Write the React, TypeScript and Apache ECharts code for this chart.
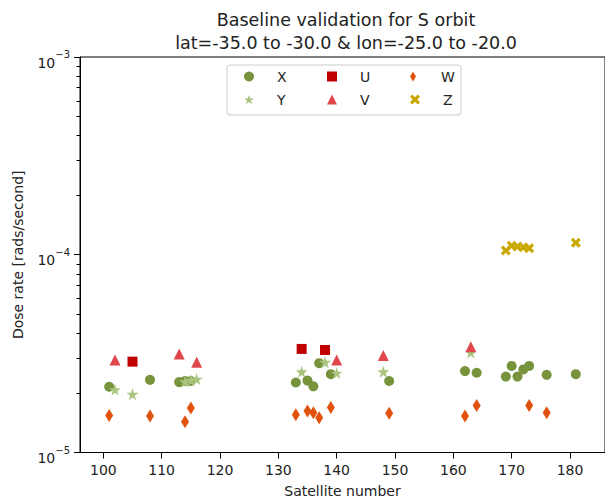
import { useEffect, useRef } from 'react';
import * as echarts from 'echarts';

// ---- data ----
const legendOrder = ['X', 'U', 'W', 'Y', 'V', 'Z'];

const xSat = [101, 108, 113, 114, 115, 133, 135, 136, 137, 139, 149, 162, 164, 169, 170, 171, 172, 173, 176, 181];
const xDose = [2.15e-5, 2.33e-5, 2.27e-5, 2.3e-5, 2.3e-5, 2.26e-5, 2.31e-5, 2.16e-5, 2.83e-5, 2.49e-5, 2.3e-5, 2.58e-5, 2.53e-5, 2.42e-5, 2.74e-5, 2.42e-5, 2.63e-5, 2.74e-5, 2.47e-5, 2.49e-5];

const ySat = [102, 105, 114, 115, 116, 134, 138, 140, 148, 163];
const yDose = [2.08e-5, 1.97e-5, 2.28e-5, 2.32e-5, 2.35e-5, 2.56e-5, 2.86e-5, 2.52e-5, 2.56e-5, 3.2e-5];

const uSat = [105, 134, 138];
const uDose = [2.88e-5, 3.34e-5, 3.3e-5];

const vSat = [102, 113, 116, 140, 148, 163];
const vDose = [2.94e-5, 3.15e-5, 2.86e-5, 2.94e-5, 3.09e-5, 3.43e-5];

const wSat = [101, 108, 114, 115, 133, 135, 136, 137, 139, 149, 162, 164, 173, 176];
const wDose = [1.54e-5, 1.53e-5, 1.43e-5, 1.68e-5, 1.55e-5, 1.62e-5, 1.59e-5, 1.5e-5, 1.69e-5, 1.58e-5, 1.53e-5, 1.73e-5, 1.73e-5, 1.59e-5];

const zSat = [169, 170, 171, 172, 173, 181];
const zDose = [1.05e-4, 1.11e-4, 1.1e-4, 1.09e-4, 1.08e-4, 1.15e-4];

const xTicks = [100, 110, 120, 130, 140, 150, 160, 170, 180];
const yDecades = [-5, -4, -3];
const minorMultipliers = [2, 3, 4, 5, 6, 7, 8, 9];

const FONT = 'DejaVu Sans';
const TXT = '#222';

const STAR = 'path://M0,-1L0.2245,-0.309L0.951,-0.309L0.363,0.118L0.588,0.809L0,0.382L-0.588,0.809L-0.363,0.118L-0.951,-0.309L-0.2245,-0.309Z';
const THIN_DIAMOND = 'path://M0,-1L0.6,0L0,1L-0.6,0Z';
const FILLED_X = 'path://M0.919,-0.495L0.424,0L0.919,0.495L0.495,0.919L0,0.424L-0.495,0.919L-0.919,0.495L-0.424,0L-0.919,-0.495L-0.495,-0.919L0,-0.424L0.495,-0.919Z';

const pairs = (s: number[], d: number[]) => s.map((v, i) => [v, d[i]]);

export default function App() {
  const ref = useRef<HTMLDivElement>(null);

  useEffect(() => {
    if (!ref.current) return;
    const chart = echarts.init(ref.current, undefined, { renderer: 'svg' });

    const minorTicks: number[] = [];
    yDecades.slice(0, -1).forEach((e) => {
      minorMultipliers.forEach((k) => minorTicks.push(e + Math.log10(k)));
    });

    const scatter = (name: string, s: number[], d: number[], symbol: string, size: any, color: string) => ({
      type: 'scatter',
      name,
      data: pairs(s, d),
      symbol,
      symbolSize: size,
      yAxisIndex: 0,
      itemStyle: { color, opacity: 1 },
      emphasis: { disabled: true },
    });

    const tok = { fontSize: 14, fontFamily: FONT, color: TXT, lineHeight: 23, height: 23 };

    chart.setOption({
      animation: false,
      backgroundColor: '#fff',
      title: {
        text: 'Baseline validation for S orbit\nlat=-35.0 to -30.0 & lon=-25.0 to -20.0',
        left: 346,
        top: 8,
        textAlign: 'center',
        padding: 0,
        textStyle: { fontSize: 17.5, fontWeight: 'normal', fontFamily: FONT, color: TXT, lineHeight: 23.3 },
      },
      legend: {
        data: legendOrder,
        left: 227,
        top: 65,
        width: 216,
        orient: 'horizontal',
        itemWidth: 10,
        itemHeight: 10,
        itemGap: 0,
        padding: [0, 2, 4, 17],
        borderColor: '#cccccc',
        borderWidth: 1,
        borderRadius: 3,
        selectedMode: false,
        formatter: (name: string) =>
          name === 'W' || name === 'Z' ? `{sp| }{c|${name}}` : `{sp| }{a|${name}}`,
        textStyle: {
          fontSize: 14,
          fontFamily: FONT,
          color: TXT,
          lineHeight: 23,
          rich: {
            sp: { ...tok, width: 18 },
            a: { ...tok, width: 50 },
            c: { ...tok, width: 16 },
          },
        },
      },
      grid: {
        left: 80,
        top: 57,
        width: 531,
        bottom: 51.5,
        show: true,
        borderColor: '#000',
        borderWidth: 1,
        backgroundColor: 'transparent',
      },
      xAxis: {
        type: 'value',
        min: 96,
        max: 186,
        name: 'Satellite number',
        nameLocation: 'middle',
        nameGap: 31,
        nameTextStyle: { fontSize: 14, fontFamily: FONT, color: TXT },
        axisLine: { show: true, lineStyle: { color: '#000', width: 1 } },
        axisTick: { show: true, length: 6, customValues: xTicks, lineStyle: { color: '#000' } },
        axisLabel: { customValues: xTicks, margin: 10, fontSize: 14, fontFamily: FONT, color: TXT },
        splitLine: { show: false },
      },
      yAxis: [
        {
          type: 'log',
          logBase: 10,
          min: 1e-5,
          max: 1e-3,
          name: 'Dose rate [rads/second]',
          nameLocation: 'middle',
          nameGap: 55,
          nameRotate: 90,
          nameTextStyle: { fontSize: 14, fontFamily: FONT, color: TXT },
          axisLine: { show: true, lineStyle: { color: '#000', width: 1 } },
          axisTick: { show: true, length: 6, lineStyle: { color: '#000' } },
          axisLabel: {
            margin: 10,
            padding: [5, 0, 0, 0],
            formatter: (v: number) => {
              const e = Math.round(Math.log10(v));
              return `{b|10}{s|\u2212${Math.abs(e)}}`;
            },
            rich: {
              b: { fontSize: 14, fontFamily: FONT, color: TXT, lineHeight: 20, verticalAlign: 'bottom' },
              s: { fontSize: 10, fontFamily: FONT, color: TXT, lineHeight: 8, verticalAlign: 'top' },
            },
          },
          splitLine: { show: false },
          minorTick: { show: false },
        },
        {
          type: 'value',
          min: yDecades[0],
          max: yDecades[yDecades.length - 1],
          position: 'left',
          axisLine: { show: false },
          axisTick: { show: true, length: 3.5, customValues: minorTicks, lineStyle: { color: '#000' } },
          axisLabel: { show: false },
          splitLine: { show: false },
        },
      ],
      series: [
        scatter('X', xSat, xDose, 'circle', 10, '#77933C'),
        scatter('Y', ySat, yDose, STAR, 12, '#A9C47F'),
        scatter('U', uSat, uDose, 'rect', 10, '#C00000'),
        scatter('V', vSat, vDose, 'triangle', 11, '#E0474C'),
        scatter('W', wSat, wDose, THIN_DIAMOND, [8, 13], '#E0520E'),
        scatter('Z', zSat, zDose, FILLED_X, 10, '#C9A800'),
      ],
    });

    return () => chart.dispose();
  }, []);

  return <div ref={ref} style={{ position: 'absolute', left: 0, top: 0, width: 605, height: 504 }} />;
}
